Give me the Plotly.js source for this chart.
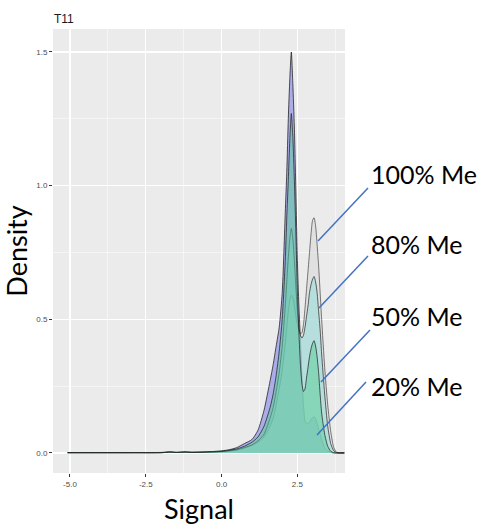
<!DOCTYPE html>
<html>
<head>
<meta charset="utf-8">
<script src="https://cdn.plot.ly/plotly-3.0.1.min.js"></script>
<style>html,body{margin:0;padding:0;background:#fff;}#chart{width:484px;height:525px;}</style>
</head>
<body>
<div id="chart"></div>
<script>
// Signal grid (x) shared by all density curves
const signal = [-5.08, -4.0, -3.0, -2.0, -1.7, -1.5, -1.2, -1.0, -0.5, 0.0, 0.25, 0.5, 0.75, 1.0, 1.2, 1.4, 1.6, 1.7, 1.8, 1.9, 2.0, 2.1, 2.15, 2.2, 2.25, 2.3, 2.35, 2.4, 2.45, 2.5, 2.55, 2.6, 2.65, 2.7, 2.75, 2.8, 2.85, 2.9, 2.95, 3.0, 3.05, 3.1, 3.15, 3.2, 3.25, 3.3, 3.4, 3.5, 3.6, 3.7, 3.8, 4.05];

const labels = ["20% Me", "100% Me", "80% Me", "50% Me"];

const density20 = [0.001, 0.001, 0.001, 0.002, 0.004, 0.002, 0.004, 0.003, 0.004, 0.008, 0.012, 0.02, 0.035, 0.05, 0.085, 0.16, 0.27, 0.33, 0.40, 0.47, 0.60, 0.90, 1.05, 1.25, 1.40, 1.50, 1.38, 1.22, 0.98, 0.72, 0.55, 0.42, 0.28, 0.18, 0.12, 0.11, 0.11, 0.115, 0.125, 0.132, 0.135, 0.128, 0.11, 0.09, 0.07, 0.05, 0.02, 0.007, 0.002, 0.0, 0.0, 0.0];

const density100 = [0.001, 0.001, 0.001, 0.001, 0.003, 0.002, 0.003, 0.002, 0.003, 0.005, 0.007, 0.01, 0.018, 0.028, 0.04, 0.06, 0.10, 0.13, 0.18, 0.24, 0.31, 0.41, 0.47, 0.53, 0.57, 0.59, 0.58, 0.55, 0.51, 0.48, 0.455, 0.445, 0.45, 0.48, 0.54, 0.61, 0.68, 0.75, 0.82, 0.87, 0.88, 0.85, 0.78, 0.70, 0.60, 0.50, 0.32, 0.18, 0.08, 0.02, 0.002, 0.0];

const density80 = [0.001, 0.001, 0.001, 0.001, 0.003, 0.002, 0.003, 0.002, 0.003, 0.005, 0.008, 0.012, 0.02, 0.03, 0.045, 0.07, 0.13, 0.17, 0.23, 0.30, 0.40, 0.55, 0.64, 0.73, 0.80, 0.84, 0.80, 0.72, 0.62, 0.53, 0.47, 0.44, 0.43, 0.44, 0.47, 0.51, 0.55, 0.60, 0.63, 0.65, 0.66, 0.64, 0.60, 0.53, 0.46, 0.37, 0.22, 0.10, 0.035, 0.008, 0.001, 0.0];

const density50 = [0.001, 0.001, 0.001, 0.001, 0.003, 0.002, 0.003, 0.002, 0.003, 0.006, 0.01, 0.015, 0.025, 0.04, 0.06, 0.10, 0.17, 0.22, 0.29, 0.38, 0.50, 0.72, 0.88, 1.02, 1.17, 1.27, 1.18, 1.02, 0.82, 0.60, 0.45, 0.33, 0.26, 0.23, 0.24, 0.28, 0.32, 0.36, 0.39, 0.41, 0.42, 0.40, 0.36, 0.30, 0.22, 0.15, 0.07, 0.025, 0.006, 0.001, 0.0, 0.0];

const xTicks = [-5.0, -2.5, 0.0, 2.5];
const xTickText = ["-5.0", "-2.5", "0.0", "2.5"];
const yTicks = [0.0, 0.5, 1.0, 1.5];
const yTickText = ["0.0", "0.5", "1.0", "1.5"];

const series = [density20, density100, density80, density50];
const fills = ["rgba(120,120,230,0.55)", "rgba(210,210,210,0.45)", "rgba(140,220,215,0.5)", "rgba(90,205,150,0.5)"];
const outlines = ["rgba(20,20,20,0.9)", "rgba(60,60,60,0.85)", "rgba(30,30,30,0.85)", "rgba(20,20,20,0.85)"];

const traces = series.map((d, i) => ({
  x: signal, y: d, type: "scatter", mode: "lines", name: labels[i],
  fill: "tozeroy", fillcolor: fills[i],
  line: {color: outlines[i], width: 0.8, shape: "spline", smoothing: 0.6},
  hoverinfo: "skip"
}));

// Label pointer lines (paper coordinates)
const W = 484, H = 525, L = 53, R = 345, T = 29, B = 473;
function px(xp) { return (xp - L) / (R - L); }
function py(yp) { return (B - yp) / (B - T); }
const pointers = [
  [368, 188, 318, 241],
  [368, 256, 319, 308],
  [370, 330, 321, 382],
  [366, 382, 317, 435]
];
const pointerLabels = ["100% Me", "80% Me", "50% Me", "20% Me"];
const labelY = [174, 244, 316, 386];

const shapes = pointers.map(p => ({
  type: "line", xref: "paper", yref: "paper",
  x0: px(p[0]), y0: py(p[1]), x1: px(p[2]), y1: py(p[3]),
  line: {color: "#4472C4", width: 1.5}
}));

const annotations = pointerLabels.map((t, i) => ({
  text: t, xref: "paper", yref: "paper", x: px(369), y: py(labelY[i]),
  xanchor: "left", yanchor: "middle", showarrow: false,
  font: {family: "Lato, 'Open Sans', sans-serif", size: 25, color: "#000"}
}));

const layout = {
  width: W, height: H,
  margin: {l: L, r: W - R, t: T, b: H - B, pad: 0},
  paper_bgcolor: "#ffffff", plot_bgcolor: "#EBEBEB",
  showlegend: false,
  title: {text: "T11", x: px(54), xref: "paper", xanchor: "left", y: 1 - 19 / H, yref: "container", yanchor: "middle",
          font: {family: "Liberation Sans, Arial, sans-serif", size: 12, color: "#1a1a1a"}},
  xaxis: {
    range: [-5.56, 4.07], tickvals: xTicks, ticktext: xTickText,
    showgrid: true, gridcolor: "#ffffff", gridwidth: 1.1, zeroline: false,
    minor: {tickvals: [-3.75, -1.25, 1.25, 3.75], showgrid: true, gridcolor: "#ffffff", gridwidth: 0.5, ticks: ""},
    ticks: "outside", ticklen: 3, tickcolor: "#333333", tickwidth: 1,
    tickfont: {family: "Liberation Sans, Arial, sans-serif", size: 8, color: "#4D4D4D"},
    showline: false,
    title: {text: "Signal", standoff: 12, font: {family: "Lato, 'Open Sans', sans-serif", size: 27, color: "#000"}}
  },
  yaxis: {
    range: [-0.075, 1.586], tickvals: yTicks, ticktext: yTickText,
    showgrid: true, gridcolor: "#ffffff", gridwidth: 1.1, zeroline: false,
    minor: {tickvals: [0.25, 0.75, 1.25], showgrid: true, gridcolor: "#ffffff", gridwidth: 0.5, ticks: ""},
    ticks: "outside", ticklen: 3, tickcolor: "#333333", tickwidth: 1,
    tickfont: {family: "Liberation Sans, Arial, sans-serif", size: 8, color: "#4D4D4D"},
    showline: false,
    title: {text: "Density", standoff: 6, font: {family: "Lato, 'Open Sans', sans-serif", size: 27, color: "#000"}}
  },
  shapes: shapes,
  annotations: annotations
};

Plotly.newPlot("chart", traces, layout, {staticPlot: true, displayModeBar: false});
</script>
</body>
</html>
